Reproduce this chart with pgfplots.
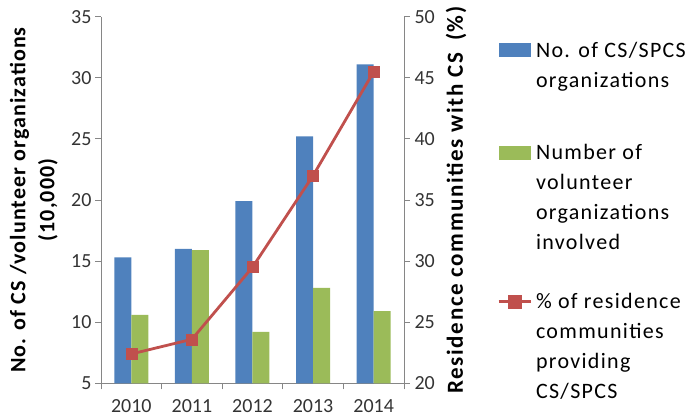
\documentclass[border=0pt]{standalone}
\usepackage{pgfplots}
\pgfplotsset{compat=1.18}
\usepackage{fontspec}
\setmainfont{Carlito}
\newfontfamily\legendfont[LetterSpace=6]{Carlito}
\newfontfamily\labelfont[LetterSpace=5]{Carlito}
\newfontfamily\rlabelfont[LetterSpace=7]{Carlito}

\definecolor{csblue}{HTML}{4F81BD}
\definecolor{volgreen}{HTML}{9BBB59}
\definecolor{pctred}{HTML}{C0504D}
\definecolor{axisgray}{HTML}{868686}
\definecolor{textgray}{HTML}{333333}

% No. of CS/SPCS organizations and volunteer organizations (10,000)
\pgfplotstableread{
x  cs    vol
0  15.3  10.6
1  16.0  15.9
2  19.9  9.2
3  25.2  12.8
4  31.1  10.9
}\orgdata
% Share of residence communities providing CS/SPCS (%)
\pgfplotstableread{
x  pct
0  22.4
1  23.6
2  29.5
3  37.0
4  45.5
}\pctdata

\pgfplotsset{
  common/.style={
    scale only axis,
    width=303pt, height=366.6pt,
    at={(101pt,35.7pt)}, anchor=south west,
    xmin=-0.5, xmax=4.5,
    axis line style={axisgray, line width=0.8pt},
    tick align=outside,
    major tick length=6pt, minor tick length=6pt,
    every tick/.style={axisgray, line width=0.8pt},
    tick label style={font=\fontsize{20}{24}\selectfont, text=textgray},
    /pgf/number format/assume math mode=true,
    label style={font=\labelfont\bfseries\fontsize{22}{29}\selectfont, text=black},
  },
}

\begin{document}
\begin{tikzpicture}
\path[use as bounding box] (0,0) rectangle (693pt,419pt);

\begin{axis}[common,
  axis x line*=bottom, axis y line*=left,
  ymin=5, ymax=35, ytick={5,10,...,35},
  xtick={0,...,4}, xticklabels={2010,2011,2012,2013,2014},
  minor xtick={-0.5,0.5,...,4.5},
  major x tick style={draw=none},
  xticklabel style={yshift=-7pt},
  ybar, bar width=17pt,
  ylabel={No. of CS /volunteer organizations\\(10,000)},
  ylabel style={align=center, at={(axis description cs:-0.222,0.5)}, anchor=center},
  legend cell align=left,
  legend style={draw=none, fill=none, inner sep=0pt,
    at={(axis description cs:1.307,0.931)}, anchor=north west,
    font=\legendfont\fontsize{22}{30}\selectfont,
    nodes={align=left, inner sep=0pt},
    column sep=4pt, row sep=42pt,
    cells={anchor=base west}},
]
% each legend swatch sits beside the first line of its entry
\addplot[fill=csblue, draw=none, bar shift=-8.5pt,
  legend image code/.code={\fill[csblue] (0pt,30pt) rectangle (32pt,44pt);}]
  table[x=x, y=cs] {\orgdata};
\addlegendentry{No. of CS/SPCS\\organizations}
\addplot[fill=volgreen, draw=none, bar shift=8.5pt,
  legend image code/.code={\fill[volgreen] (0pt,90pt) rectangle (32pt,104pt);
    \path (0pt,119pt);}]
  table[x=x, y=vol] {\orgdata};
\addlegendentry{Number of\\volunteer\\organizations\\involved}
\addlegendimage{pctred, line width=2.8pt,
  legend image code/.code={
    \draw[pctred, line width=2.8pt] (0pt,97pt) -- (32pt,97pt);
    \fill[pctred] (10.5pt,91.5pt) rectangle (21.5pt,102.5pt);}}
\addlegendentry{\% of residence\\communities\\providing\\CS/SPCS}
\end{axis}

\begin{axis}[common,
  axis x line=none, axis y line*=right,
  ymin=20, ymax=50, ytick={20,25,...,50},
  yticklabel style={xshift=1pt},
  ylabel={Residence communities with CS\hspace{12pt}(\%)},
  ylabel style={font=\rlabelfont\bfseries\fontsize{23}{29}\selectfont,
    at={(axis description cs:1.172,0.5)}, anchor=center},
]
\addplot[pctred, line width=2.8pt, mark=square*, mark size=5.5pt,
  mark options={fill=pctred, draw=pctred, line width=0.5pt}]
  table[x=x, y=pct] {\pctdata};
\end{axis}
\end{tikzpicture}
\end{document}
